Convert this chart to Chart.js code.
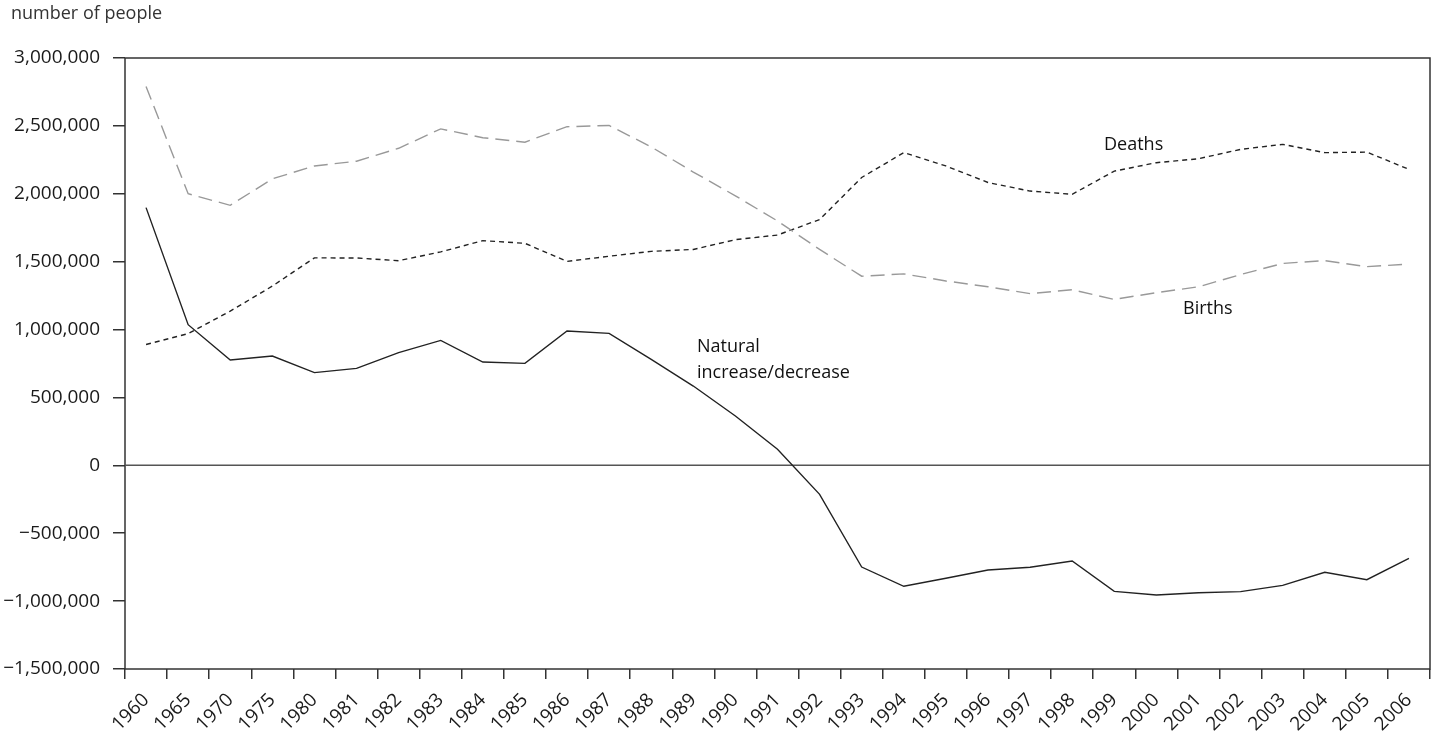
<!DOCTYPE html>
<html>
<head>
<meta charset="utf-8">
<script src="https://cdn.jsdelivr.net/npm/chart.js@4.4.1/dist/chart.umd.min.js"></script>
<style>
  html, body { margin: 0; padding: 0; background: #fff; }
  #wrap { width: 1435px; height: 733px; position: relative; }
</style>
</head>
<body>
<div id="wrap"><canvas id="myChart"></canvas></div>
<script>
// years on the x axis
const years = ['1960', '1965', '1970', '1975', '1980', '1981', '1982', '1983', '1984', '1985',
  '1986', '1987', '1988', '1989', '1990', '1991', '1992', '1993', '1994', '1995', '1996',
  '1997', '1998', '1999', '2000', '2001', '2002', '2003', '2004', '2005', '2006'];

const births = [2790000, 2000000, 1915000, 2110000, 2205000, 2240000, 2335000, 2478000, 2413000, 2380000,
  2494000, 2503000, 2345000, 2160000, 1985000, 1800000, 1590000, 1393000, 1410000, 1358000, 1315000,
  1265000, 1293000, 1222000, 1272000, 1315000, 1405000, 1487000, 1508000, 1463000, 1482000];

const deaths = [890000, 970000, 1136000, 1320000, 1528000, 1527000, 1507000, 1572000, 1655000, 1635000,
  1502000, 1540000, 1576000, 1590000, 1662000, 1696000, 1810000, 2120000, 2303000, 2205000, 2083000,
  2020000, 1996000, 2167000, 2229000, 2258000, 2327000, 2364000, 2303000, 2307000, 2180000];

const naturalChange = [1898000, 1036000, 776000, 805000, 683000, 714000, 830000, 920000, 761000, 751000,
  989000, 972000, 780000, 584000, 363000, 118000, -214000, -749000, -891000, -832000, -771000,
  -751000, -705000, -928000, -955000, -938000, -930000, -884000, -788000, -842000, -685000];

const yTicks = [3000000, 2500000, 2000000, 1500000, 1000000, 500000, 0, -500000, -1000000, -1500000];

const FONT = '"Open Sans", "Noto Sans", sans-serif';

const fmt = v => (v < 0 ? '\u2212' : '') + Math.abs(v).toLocaleString('en-US');

// frame round the plot, zero line and the text labels
const extras = {
  id: 'extras',
  beforeDatasetsDraw(chart) {
    const { ctx, chartArea, scales } = chart;
    ctx.save();
    ctx.strokeStyle = '#333';
    ctx.lineWidth = 1.5;
    ctx.strokeRect(chartArea.left, chartArea.top, chartArea.right - chartArea.left, chartArea.bottom - chartArea.top);
    const y0 = scales.y.getPixelForValue(0);
    ctx.strokeStyle = '#555';
    ctx.beginPath();
    ctx.moveTo(chartArea.left, y0);
    ctx.lineTo(chartArea.right, y0);
    ctx.stroke();
    ctx.restore();
  },
  afterDraw(chart) {
    const { ctx } = chart;
    ctx.save();
    ctx.font = '18px ' + FONT;
    ctx.fillStyle = '#333';
    ctx.textBaseline = 'middle';
    ctx.textAlign = 'left';
    ctx.fillText('number of people', 11, 14);
    ctx.fillStyle = '#111';
    ctx.fillText('Deaths', 1104, 145);
    ctx.fillText('Births', 1183, 309);
    ctx.fillText('Natural', 697, 347);
    ctx.fillText('increase/decrease', 697, 373);
    ctx.restore();
  }
};

const ctx = document.getElementById('myChart').getContext('2d');
new Chart(ctx, {
  type: 'line',
  data: {
    labels: years,
    datasets: [
      {
        label: 'Births',
        data: births,
        borderColor: '#999',
        borderWidth: 1.4,
        borderDash: [14, 7],
        pointRadius: 0,
        tension: 0
      },
      {
        label: 'Deaths',
        data: deaths,
        borderColor: '#222',
        borderWidth: 1.4,
        borderDash: [5, 4],
        pointRadius: 0,
        tension: 0
      },
      {
        label: 'Natural increase/decrease',
        data: naturalChange,
        borderColor: '#222',
        borderWidth: 1.4,
        pointRadius: 0,
        tension: 0
      }
    ]
  },
  options: {
    responsive: true,
    maintainAspectRatio: false,
    animation: false,
    layout: { padding: { top: 58, right: 5, left: 0, bottom: 0 } },
    plugins: {
      legend: { display: false },
      tooltip: { enabled: false }
    },
    scales: {
      x: {
        offset: true,
        border: { display: false },
        grid: {
          offset: true,
          drawOnChartArea: false,
          tickLength: 10,
          tickColor: '#333',
          lineWidth: 1.5
        },
        ticks: {
          color: '#1a1a1a',
          font: { family: FONT, size: 19 },
          maxRotation: 45,
          minRotation: 45,
          autoSkip: false,
          padding: 10
        },
        afterFit(scale) {
          scale.height = 64;
          scale.paddingLeft = 0;
          scale.paddingRight = 0;
        }
      },
      y: {
        min: -1500000,
        max: 3000000,
        border: { display: false },
        grid: {
          drawOnChartArea: false,
          tickLength: 12,
          tickColor: '#333',
          lineWidth: 1.5
        },
        afterBuildTicks(scale) {
          scale.ticks = yTicks.map(v => ({ value: v }));
        },
        ticks: {
          color: '#1a1a1a',
          font: { family: FONT, size: 19 },
          padding: 13,
          callback: v => fmt(v)
        },
        afterFit(scale) { scale.width = 125; }
      }
    }
  },
  plugins: [extras]
});
</script>
</body>
</html>
